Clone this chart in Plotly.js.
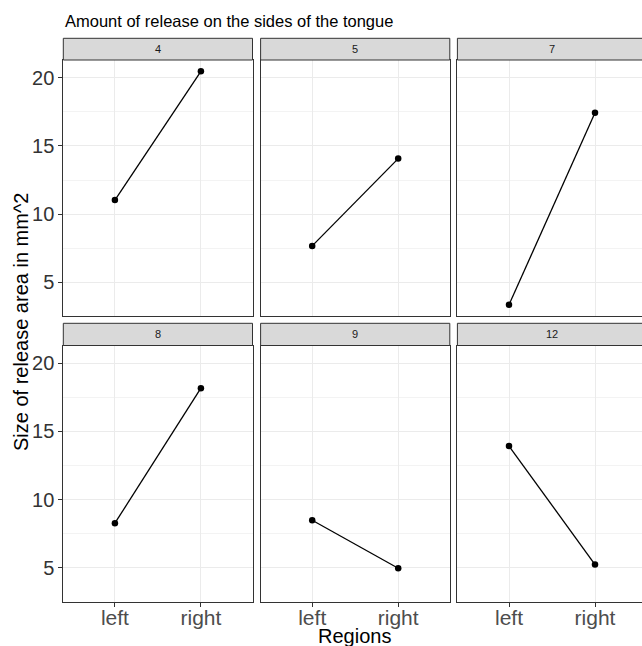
<!DOCTYPE html>
<html>
<head>
<meta charset="utf-8">
<script src="https://cdn.plot.ly/plotly-3.0.1.min.js"></script>
<style>
  html, body { margin:0; padding:0; background:#fff; overflow:hidden; }
  #wrap { width:642px; height:646px; overflow:hidden; }
</style>
</head>
<body>
<div id="wrap"><div id="chart"></div></div>
<script>
// ---- data ----
const facets = ['4', '5', '7', '8', '9', '12'];
const regions = ['left', 'right'];
const leftValues = [11.03, 7.67, 3.35, 8.27, 8.49, 13.93];
const rightValues = [20.47, 14.07, 17.44, 18.17, 4.97, 5.24];
const yTickVals = [5, 10, 15, 20];
const yTickText = ['5', '10', '15', '20'];
const titleText = 'Amount of release on the sides of the tongue';
const xTitle = 'Regions';
const yTitle = 'Size of release area in mm^2';

// ---- layout geometry (pixels) ----
const W = 648, H = 646;
const colPx = [[63.3, 252.5], [260.6, 449.8], [457.4, 646.6]];
const rowPx = [[60, 316], [345.5, 601.5]];
const stripPx = [[38.3, 60], [323.3, 345.5]];
const FONT = 'Liberation Sans, Arial, Helvetica, sans-serif';

const traces = [];
const layout = {
  width: W, height: H,
  margin: {l: 0, r: 0, t: 0, b: 0},
  paper_bgcolor: '#ffffff',
  plot_bgcolor: '#ffffff',
  showlegend: false,
  font: {family: FONT},
  shapes: [], annotations: []
};

facets.forEach((f, i) => {
  const r = Math.floor(i / 3), c = i % 3;
  const n = i + 1;
  const xa = 'x' + (n === 1 ? '' : n), ya = 'y' + (n === 1 ? '' : n);
  traces.push({
    type: 'scatter', mode: 'lines+markers',
    x: regions, y: [leftValues[i], rightValues[i]],
    xaxis: xa, yaxis: ya,
    line: {color: '#000000', width: 1.3},
    marker: {color: '#000000', size: 6.5},
    hoverinfo: 'skip'
  });
  const bottom = r === 1, left = c === 0;
  layout['xaxis' + (n === 1 ? '' : n)] = {
    domain: [colPx[c][0] / W, colPx[c][1] / W],
    anchor: ya,
    type: 'category',
    categoryorder: 'array', categoryarray: regions,
    range: [-0.6, 1.6],
    showgrid: true, gridcolor: '#EBEBEB', gridwidth: 1,
    zeroline: false,
    showline: true, linecolor: '#333333', linewidth: 1, mirror: true,
    ticks: bottom ? 'outside' : '', ticklen: 4, tickcolor: '#333333', tickwidth: 1,
    showticklabels: bottom,
    ticklabelstandoff: -7,
    tickfont: {size: 21, color: '#4D4D4D', family: FONT},
    fixedrange: true
  };
  layout['yaxis' + (n === 1 ? '' : n)] = {
    domain: [(H - rowPx[r][1]) / H, (H - rowPx[r][0]) / H],
    anchor: xa,
    range: [2.53, 21.30],
    tickmode: 'array', tickvals: yTickVals, ticktext: yTickText,
    showgrid: true, gridcolor: '#EBEBEB', gridwidth: 1,
    minor: {tickmode: 'array', tickvals: [7.5, 12.5, 17.5], showgrid: true, gridcolor: '#EBEBEB', gridwidth: 0.6, ticks: ''},
    zeroline: false,
    showline: true, linecolor: '#333333', linewidth: 1, mirror: true,
    ticks: left ? 'outside' : '', ticklen: 4, tickcolor: '#333333', tickwidth: 1,
    showticklabels: left,
    tickfont: {size: 20, color: '#333333', family: FONT},
    fixedrange: true
  };
  // strip
  layout.shapes.push({
    type: 'rect', xref: 'paper', yref: 'paper',
    x0: colPx[c][0] / W, x1: colPx[c][1] / W,
    y0: (H - stripPx[r][1]) / H, y1: (H - stripPx[r][0]) / H,
    fillcolor: '#D9D9D9', line: {color: '#333333', width: 1}, layer: 'above'
  });
  layout.annotations.push({
    xref: 'paper', yref: 'paper',
    x: (colPx[c][0] + colPx[c][1]) / 2 / W,
    y: (H - (stripPx[r][0] + stripPx[r][1]) / 2) / H,
    xanchor: 'center', yanchor: 'middle',
    text: f, showarrow: false,
    font: {size: 11, color: '#1A1A1A', family: FONT}
  });
});

layout.annotations.push({
  xref: 'paper', yref: 'paper', x: 63.3 / W, y: (H - 21) / H,
  xanchor: 'left', yanchor: 'middle', text: titleText, showarrow: false,
  font: {size: 16.5, color: '#000000', family: FONT}
});
layout.annotations.push({
  xref: 'paper', yref: 'paper', x: (63.3 + 646.6) / 2 / W, y: (H - 636) / H,
  xanchor: 'center', yanchor: 'middle', text: xTitle, showarrow: false,
  font: {size: 20, color: '#000000', family: FONT}
});
layout.annotations.push({
  xref: 'paper', yref: 'paper', x: 21 / W, y: (H - 322) / H,
  xanchor: 'center', yanchor: 'middle', text: yTitle, showarrow: false, textangle: -90,
  font: {size: 20, color: '#000000', family: FONT}
});

Plotly.newPlot('chart', traces, layout, {displayModeBar: false, staticPlot: true});
</script>
</body>
</html>
